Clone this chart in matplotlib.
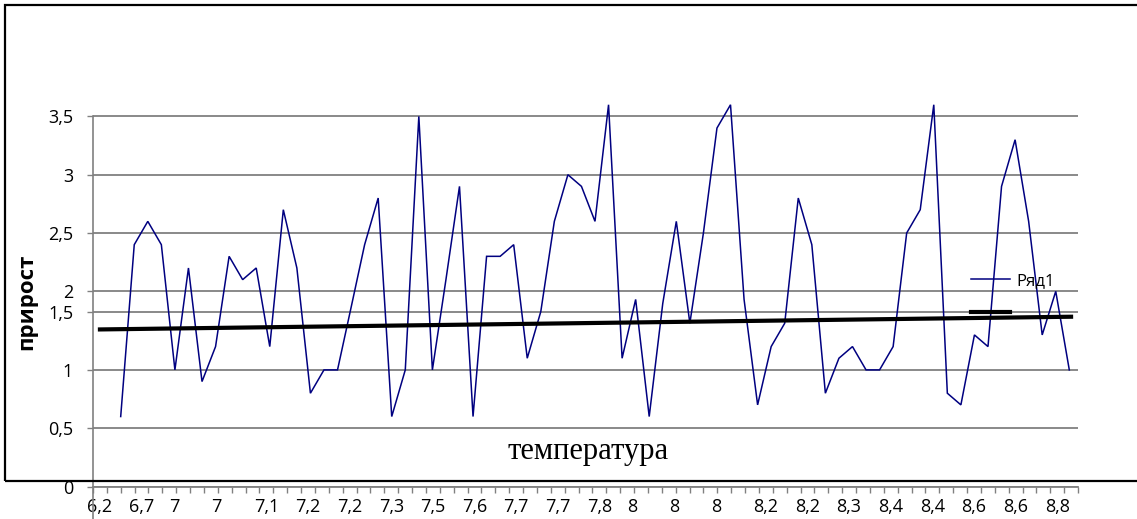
import numpy as np
import matplotlib
matplotlib.use("Agg")
import matplotlib.pyplot as plt
from matplotlib.patches import Rectangle

plt.rcParams['font.family'] = ['Open Sans', 'DejaVu Sans']

# ---------------- data ----------------
growth = [0.6, 2.4, 2.6, 2.4, 1.0, 2.2, 0.9, 1.2, 2.3, 2.1,
          2.2, 1.2, 2.7, 2.2, 0.8, 1.0, 1.0, 1.6, 2.4, 2.8,
          0.6, 1.0, 3.5, 1.0, 2.1, 2.9, 0.6, 2.3, 2.3, 2.4,
          1.1, 1.5, 2.6, 3.0, 2.9, 2.6, 3.6, 1.1, 1.8, 0.6,
          1.7, 2.6, 1.4, 2.5, 3.4, 3.6, 1.8, 0.7, 1.2, 1.4,
          2.8, 2.4, 0.8, 1.1, 1.2, 1.0, 1.0, 1.2, 2.5, 2.7,
          3.6, 0.8, 0.7, 1.3, 1.2, 2.9, 3.3, 2.6, 1.3, 2.0,
          1.0]
trend_values = [1.347, 1.456]
x_labels = ["6,2", "6,7", "7", "7", "7,1", "7,2", "7,2", "7,3", "7,5", "7,6",
            "7,7", "7,7", "7,8", "8", "8", "8", "8,2", "8,2", "8,3", "8,4",
            "8,4", "8,6", "8,6", "8,8"]
y_ticks = [0, 0.5, 1, 1.5, 2, 2.5, 3, 3.5]
y_tick_labels = ["0", "0,5", "1", "1,5", "2", "2,5", "3", "3,5"]
series_name = "Ряд1"
x_title = "температура"
y_title = "прирост"
n_categories = 71

# ---------------- layout ----------------
W, H = 1137, 519
fig = plt.figure(figsize=(W / 100, H / 100), dpi=100)
fig.patch.set_facecolor("white")

GAP = 0.348  # compressed segment between 1.5 and 2 on the value axis


def fwd(v):
    v = np.asarray(v, dtype=float)
    return np.where(v <= 1.5, v,
                    np.where(v <= 2.0, 1.5 + (v - 1.5) * GAP, v - 0.5 + 0.5 * GAP))


def inv(p):
    p = np.asarray(p, dtype=float)
    return np.where(p <= 1.5, p,
                    np.where(p <= 1.5 + 0.5 * GAP, 1.5 + (p - 1.5) / GAP, p + 0.5 - 0.5 * GAP))


ytop = 3.8
px_per_unit = 116.6
ax_h = float(fwd(ytop)) * px_per_unit
ax = fig.add_axes([93 / W, (H - 486.5) / H, 985 / W, ax_h / H])
ax.set_yscale("function", functions=(fwd, inv))
ax.set_ylim(0, ytop)
ax.set_xlim(0, n_categories)

grey = "#808080"
ax.set_yticks(y_ticks, y_tick_labels)
ax.grid(axis="y", color=grey, lw=1.3)
ax.set_axisbelow(True)
ax.tick_params(axis="y", direction="out", length=4.3, width=1, color=grey,
               pad=10, labelsize=13)

# category axis: tick marks at category boundaries, labels every 3rd category
ax.set_xticks(np.arange(0, n_categories + 1))
ax.set_xticklabels([])
lab_pos = np.arange(0, n_categories, 3) + 0.5
shown = [t if "," in t else t + "\u2008\u2007" for t in x_labels]
ax.set_xticks(lab_pos, shown, minor=True)
ax.tick_params(axis="x", which="major", direction="out", length=4.3, width=1, color=grey)
ax.tick_params(axis="x", which="minor", length=0, pad=8, labelsize=13)

for s in ("top", "right"):
    ax.spines[s].set_visible(False)
ax.spines["left"].set_color(grey)
ax.spines["left"].set_linewidth(1.2)
ax.spines["left"].set_bounds(-0.3, 3.5)
ax.spines["bottom"].set_color(grey)
ax.spines["bottom"].set_linewidth(1.3)

# series axis (line plotted over its own category spacing)
ax2 = ax.twiny()
ax2.set_xlim(-2.044, 70.642)
ax2.set_axis_off()
idx = np.arange(len(growth))
blue, = ax2.plot(idx, growth, color="#000080", lw=1.1, solid_joinstyle="miter")
trend, = ax2.plot([0.5, n_categories - 0.5], trend_values, color="black", lw=3.0,
                  transform=ax.transData, zorder=3)

leg = ax2.legend([blue, trend], [series_name, " "], loc="upper left",
                 bbox_to_anchor=(971 / W, 1 - 273 / H), bbox_transform=fig.transFigure,
                 frameon=False, fontsize=12, handlelength=2.35, handletextpad=0.36,
                 borderpad=0, borderaxespad=0, labelspacing=1.0)

ax.set_ylabel(y_title, fontsize=16, fontweight="bold")
ax.yaxis.set_label_coords(26.7 / W, 1 - 301.7 / H, transform=fig.transFigure)
ax.yaxis.label.set_va("center")

ax.set_xlabel(x_title, fontsize=22, family=["Liberation Serif", "DejaVu Serif"])
ax.xaxis.set_label_coords(588 / W, 1 - 451 / H, transform=fig.transFigure)
ax.xaxis.label.set_va("center")

fig.add_artist(Rectangle((5 / W, (H - 481) / H), 2.0, (481 - 5) / H,
                         transform=fig.transFigure, fill=False, ec="black", lw=1.6))

fig.savefig("out.png", dpi=100)
